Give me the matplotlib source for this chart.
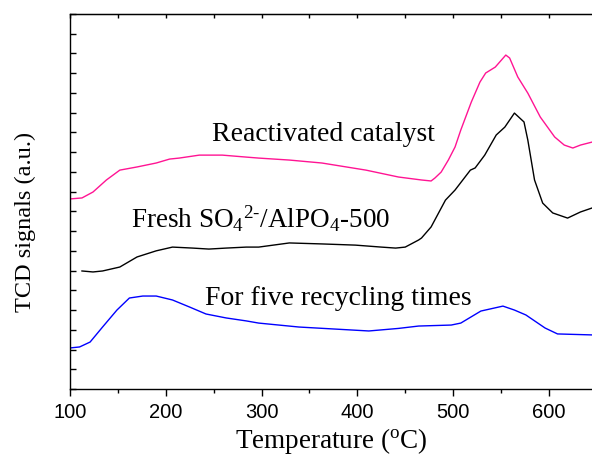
import numpy as np
import matplotlib
matplotlib.use("Agg")
import matplotlib.pyplot as plt
from matplotlib.ticker import MultipleLocator

plt.rcParams['mathtext.fontset'] = 'custom'
plt.rcParams['mathtext.rm'] = 'Liberation Serif'
plt.rcParams['mathtext.it'] = 'Liberation Serif:italic'

# TPD curves (temperature in C, signal in arbitrary units)
temp_react = [100, 112.5, 124, 138, 152, 170, 190, 204, 214, 235, 259, 284, 297, 329,
              363, 409, 443, 467, 477, 481, 487.5, 495, 502, 508, 519, 528, 534, 544,
              555, 559, 567.5, 578, 591, 606, 616, 625, 633, 645]
sig_react = [9.63, 9.68, 9.98, 10.59, 11.09, 11.25, 11.45, 11.65, 11.70, 11.85, 11.85,
             11.75, 11.70, 11.60, 11.45, 11.09, 10.74, 10.59, 10.54, 10.69, 10.99,
             11.60, 12.26, 13.12, 14.54, 15.55, 16.01, 16.31, 16.92, 16.77, 15.81,
             14.99, 13.78, 12.77, 12.36, 12.21, 12.36, 12.51]

temp_fresh = [112.5, 124, 134, 152, 170, 190, 207, 228, 245, 263, 284, 297, 329, 363,
              398, 425, 440, 450, 464, 467, 477, 492, 502, 518, 523, 533, 545, 554,
              564, 574, 578, 585, 593.5, 604, 619.5, 633, 645]
sig_fresh = [5.98, 5.93, 5.98, 6.18, 6.69, 7.00, 7.19, 7.14, 7.09, 7.14, 7.19, 7.19,
             7.40, 7.35, 7.29, 7.19, 7.14, 7.19, 7.55, 7.65, 8.21, 9.57, 10.08, 11.09,
             11.20, 11.85, 12.87, 13.27, 13.98, 13.53, 12.61, 10.59, 9.42, 8.92, 8.66,
             8.97, 9.17]

temp_cycle = [100, 110, 121, 134, 149, 162, 176, 190, 207, 225, 242, 263, 284, 297,
              339, 412, 443, 464, 498, 508, 529, 552, 564, 576, 596, 609, 645]
sig_cycle = [2.08, 2.13, 2.38, 3.14, 4.00, 4.61, 4.71, 4.71, 4.51, 4.15, 3.80, 3.60,
             3.45, 3.34, 3.14, 2.94, 3.07, 3.19, 3.24, 3.34, 3.95, 4.20, 4.00, 3.75,
             3.09, 2.79, 2.74]

labels = ['Reactivated catalyst',
          r'Fresh SO$_4$$^{2\text{-}}$/AlPO$_4$-500',
          'For five recycling times']

fig = plt.figure(figsize=(5.92, 4.58), dpi=100)
ax = fig.add_axes([70 / 592, 69 / 458, 522 / 592, 375 / 458])

ax.plot(temp_react, sig_react, color='#ff1493', lw=1.0)
ax.plot(temp_fresh, sig_fresh, color='black', lw=1.0)
ax.plot(temp_cycle, sig_cycle, color='#0000ff', lw=1.0)

ax.set_xlim(100, 645)
ax.set_ylim(0, 19)

serif = 'Liberation Serif'
ax.text(365, 12.9, labels[0], fontsize=20, family=serif, ha='center', va='center')
ax.text(299, 8.6, labels[1], fontsize=19.5, family=serif, ha='center', va='center')
ax.text(380, 4.6, labels[2], fontsize=20, family=serif, ha='center', va='center')

ax.set_xlabel(r'Temperature ($^{\rm o}$C)', fontsize=19.5, family=serif, labelpad=3)
ax.set_ylabel('TCD signals (a.u.)', fontsize=17.5, family=serif)
ax.yaxis.set_label_coords(-0.065, 0.445)

ax.xaxis.set_major_locator(MultipleLocator(100))
ax.xaxis.set_minor_locator(MultipleLocator(50))
ax.yaxis.set_major_locator(MultipleLocator(1))
ax.tick_params(axis='x', which='major', direction='out', length=5, labelsize=14.5,
               width=1, pad=5)
ax.tick_params(axis='x', which='minor', direction='out', length=3, width=1)
ax.tick_params(axis='y', direction='in', length=4, width=1, labelleft=False)
for lab in ax.get_xticklabels():
    lab.set_family('Liberation Sans')

# top axis: inward ticks, no labels
top = ax.secondary_xaxis('top')
top.xaxis.set_major_locator(MultipleLocator(50))
top.tick_params(direction='in', length=3, width=1, labeltop=False)

ax.spines['right'].set_visible(False)
for s in ['left', 'top', 'bottom']:
    ax.spines[s].set_linewidth(1.0)

fig.savefig('out.png', dpi=100)
